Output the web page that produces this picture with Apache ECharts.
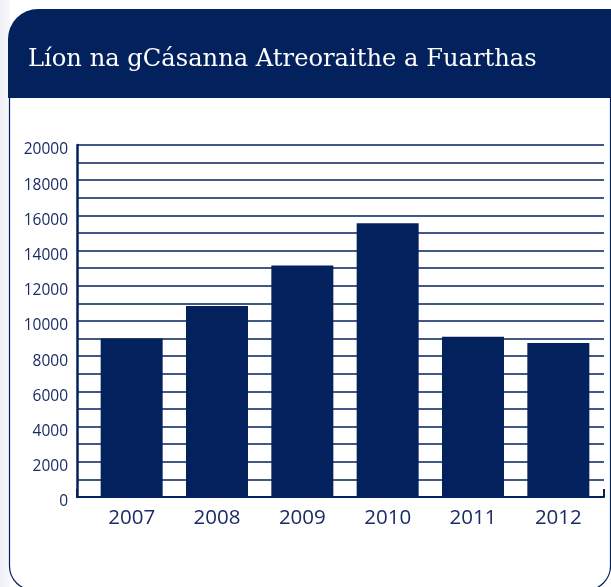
<!DOCTYPE html>
<html>
<head>
<meta charset="utf-8">
<script src="https://cdn.jsdelivr.net/npm/echarts@6/dist/echarts.min.js"></script>
<style>
  html, body { margin: 0; padding: 0; background: #fff; }
  #chart { width: 611px; height: 587px; }
</style>
</head>
<body>
<div id="chart"></div>
<script>
var years = ['2007', '2008', '2009', '2010', '2011', '2012'];
var cases = [9000, 10850, 13150, 15550, 9100, 8750];
var yTicks = [0, 2000, 4000, 6000, 8000, 10000, 12000, 14000, 16000, 18000, 20000];

var navy = '#03215d';
var textNavy = '#1a2b66';

var chart = echarts.init(document.getElementById('chart'));

option = {
    animation: false,
    title: {
        text: 'Líon na gCásanna Atreoraithe a Fuarthas',
        left: 23,
        top: 43,
        textStyle: {
            color: '#fff',
            fontFamily: 'DejaVu Serif',
            fontSize: 24.2,
            fontWeight: 'normal'
        }
    },
    graphic: [
        {
            type: 'rect',
            z: -10,
            shape: { x: 0, y: 0, width: 10, height: 587 },
            style: {
                fill: new echarts.graphic.LinearGradient(0, 0, 1, 0, [
                    { offset: 0, color: '#eef0f5' },
                    { offset: 1, color: '#f8f9fb' }
                ])
            }
        },
        {
            type: 'rect',
            z: -9,
            shape: { x: 9.5, y: 20, width: 601, height: 570, r: 24 },
            style: { fill: '#fff', stroke: navy, lineWidth: 1.2 }
        },
        {
            type: 'rect',
            z: -8,
            shape: { x: 8, y: 9, width: 610, height: 89, r: [30, 0, 0, 0] },
            style: { fill: navy }
        }
    ],
    grid: [
        { left: 77, right: 7, top: 145, bottom: 90 },
        { left: 89, right: 10, top: 145, bottom: 90 }
    ],
    xAxis: [
        {
            gridIndex: 0,
            type: 'value',
            min: 0,
            max: 1,
            interval: 1,
            axisLine: { show: true, lineStyle: { color: navy, width: 2 } },
            axisTick: { show: true, inside: true, length: 8, lineStyle: { color: navy, width: 2 } },
            axisLabel: { show: false },
            splitLine: { show: false }
        },
        {
            gridIndex: 1,
            type: 'category',
            data: years,
            axisLine: { show: false },
            axisTick: { show: false },
            axisLabel: {
                color: textNavy,
                fontFamily: 'Open Sans',
                fontSize: 20.5,
                margin: 11
            }
        }
    ],
    yAxis: [
        {
            gridIndex: 0,
            type: 'value',
            min: 0,
            max: 20000,
            interval: 1000,
            axisLine: { show: true, lineStyle: { color: navy, width: 2.5 } },
            axisTick: { show: false },
            axisLabel: {
                color: textNavy,
                fontFamily: 'Open Sans',
                fontSize: 15.5,
                margin: 9,
                verticalAlign: 'top',
                lineHeight: 10,
                formatter: function (v) {
                    return yTicks.indexOf(v) >= 0 ? String(v) : '';
                }
            },
            splitLine: { show: true, lineStyle: { color: navy, width: 1.5 } }
        },
        {
            gridIndex: 1,
            type: 'value',
            min: 0,
            max: 20000,
            show: false
        }
    ],
    series: [
        {
            name: 'Cásanna',
            type: 'bar',
            xAxisIndex: 1,
            yAxisIndex: 1,
            data: cases,
            barWidth: 62,
            itemStyle: { color: navy }
        }
    ]
};

chart.setOption(option);
</script>
</body>
</html>
